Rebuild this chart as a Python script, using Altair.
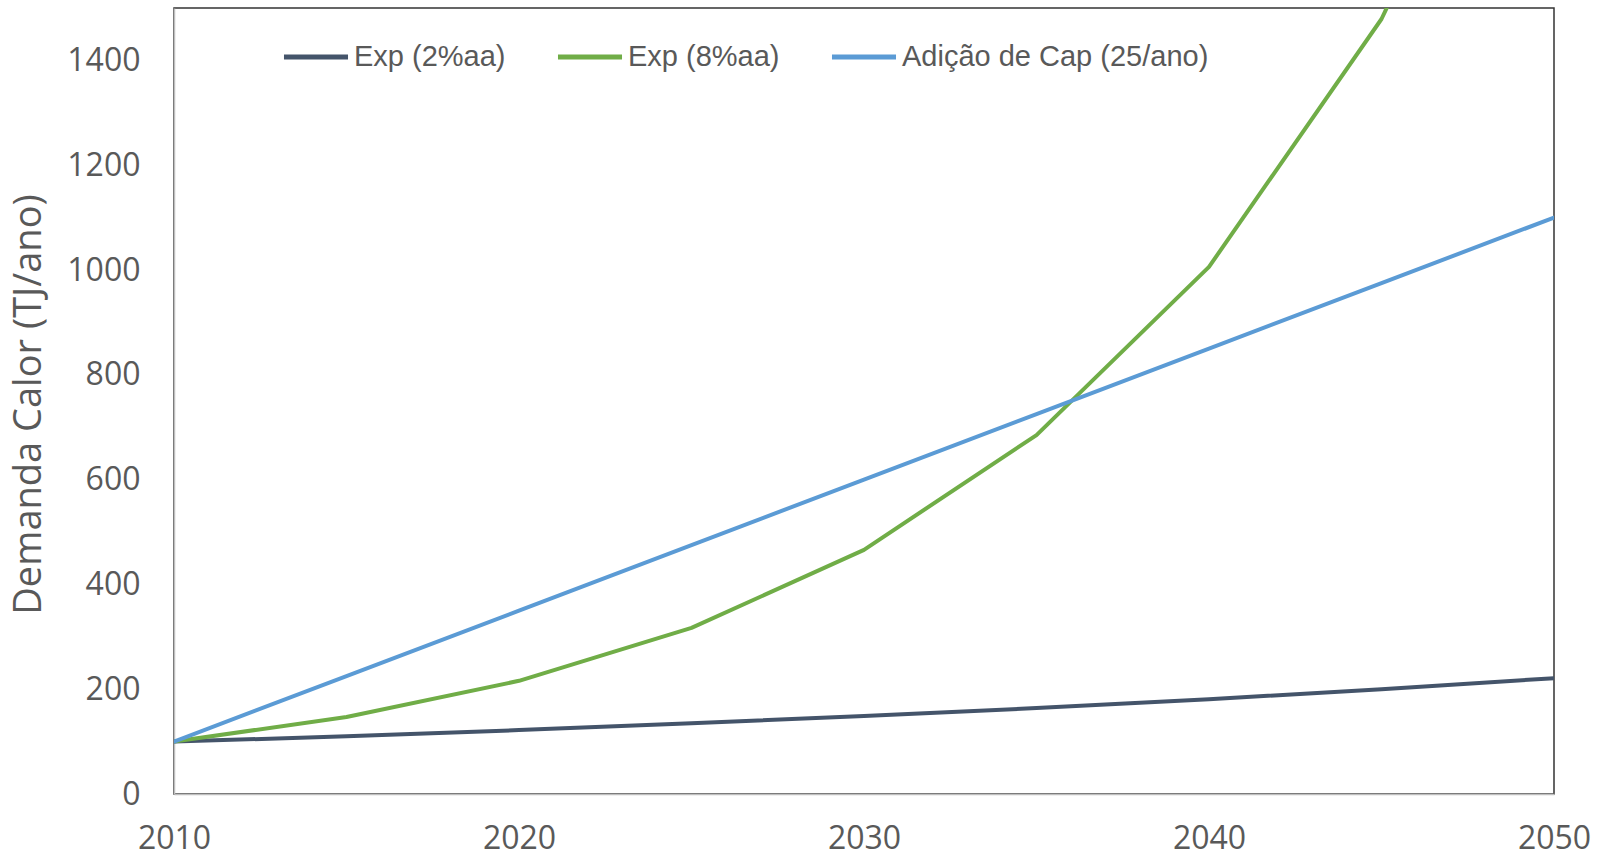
import altair as alt
import pandas as pd

# Heat demand projections (TJ/ano), one value every 5 years
years = [2010, 2015, 2020, 2025, 2030, 2035, 2040, 2045, 2050]
exp_2 = [100, 110, 122, 135, 149, 164, 181, 200, 221]
exp_8 = [100, 147, 216, 317, 466, 685, 1006, 1479, 2172]
cap_add = [100, 225, 350, 475, 600, 725, 850, 975, 1100]

series_names = ["Exp (2%aa)", "Exp (8%aa)", "Adição de Cap (25/ano)"]
series_colors = ["#44546A", "#70AD47", "#5B9BD5"]
x_ticks = [2010, 2020, 2030, 2040, 2050]
y_ticks = [0, 200, 400, 600, 800, 1000, 1200, 1400]

rows = []
for name, vals in zip(series_names, [exp_2, exp_8, cap_add]):
    for yr, v in zip(years, vals):
        rows.append({"ano": yr, "valor": v, "serie": name})
df = pd.DataFrame(rows)

W, H = 1380, 786

lines = alt.Chart(df).mark_line(strokeWidth=4, strokeCap="round", strokeJoin="round", clip=True).encode(
    x=alt.X("ano:Q", scale=alt.Scale(domain=[2010, 2050], nice=False),
            axis=alt.Axis(values=x_ticks, format="d", title=None, grid=False, ticks=False,
                          labelFlush=False, labelOverlap=False, labelPadding=29,
                          domainColor="#BFBFBF", domainWidth=1.5)),
    y=alt.Y("valor:Q", scale=alt.Scale(domain=[0, 1500], nice=False),
            axis=alt.Axis(values=y_ticks, format="d", title="Demanda Calor (TJ/ano)", grid=False,
                          ticks=False, labelPadding=34, domainColor="#BFBFBF", domainWidth=1.5,
                          titleX=-145, titleY=H / 2 + 3, titleAlign="center",
                          titleBaseline="middle", titleAngle=-90, titleFontSize=38)),
    color=alt.Color("serie:N", scale=alt.Scale(domain=series_names, range=series_colors),
                    sort=series_names,
                    legend=alt.Legend(title=None, orient="none", direction="horizontal",
                                      legendX=107, legendY=14, symbolType="stroke",
                                      symbolSize=4100, symbolStrokeWidth=5,
                                      labelFont="Liberation Sans", labelFontSize=29,
                                      labelColor="#595959", labelOffset=3, labelLimit=0,
                                      columnPadding=41)),
)

chart = lines.properties(
    width=W, height=H,
    autosize=alt.AutoSizeParams(type="none"),
    padding={"left": 174, "top": 8, "right": 46, "bottom": 62},
).configure(
    background="white"
).configure_view(
    stroke="#333333", strokeWidth=1.5
).configure_axis(
    labelFont="Open Sans", labelFontSize=32, labelColor="#595959",
    titleFont="Open Sans", titleFontSize=32, titleColor="#595959", titleFontWeight="normal",
)

chart.save("out.html", embed_options={"renderer": "svg", "actions": False})
